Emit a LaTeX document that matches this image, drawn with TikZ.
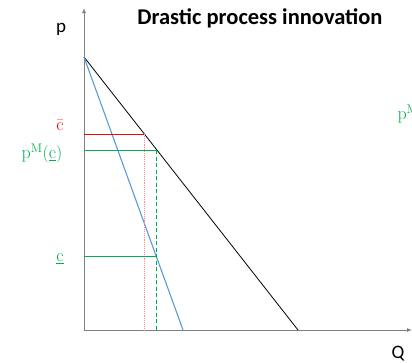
\documentclass[tikz,border=0pt]{standalone}
\usepackage{fontspec}
\setsansfont{Carlito}
\usetikzlibrary{arrows.meta}
\definecolor{offgreen}{RGB}{0,176,80}
\definecolor{offblue}{RGB}{91,155,213}
\definecolor{axisgray}{RGB}{128,128,128}

\begin{document}
\begin{tikzpicture}[
        x=1pt, y=-1pt,
        axis/.style={draw=axisgray, line width=0.9pt},
        demand/.style={draw=black, line width=0.8pt},
        mrev/.style={draw=offblue, line width=1.1pt},
        cost/.style={line width=1pt},
        guide/.style={line width=0.9pt},
        axlabel/.style={font=\fontsize{19}{21}\sffamily},
        mathlabel/.style={font=\fontsize{18}{20}\selectfont}
    ]
    \useasboundingbox (0,0) rectangle (412,362);

    % --- Axes ---
    \coordinate (origin) at (84,330);
    \coordinate (ytop) at (84,8);
    \coordinate (xend) at (412,330);
    \draw[axis, -{Latex[length=5pt,width=4pt]}] (origin) -- (ytop);
    \draw[axis, -{Latex[length=5pt,width=4pt]}] (origin) -- (xend);
    \node[axlabel] (plab) at (61,29) {p};
    \node[axlabel] (qlab) at (398,354) {Q};

    % --- Title ---
    \node[font=\fontsize{22.5}{24}\sffamily\bfseries] (title) at (260,18) {Drastic process innovation};

    % --- Demand and marginal revenue ---
    \coordinate (pmax) at (84,57);
    \coordinate (dend) at (298,330);
    \coordinate (mrend) at (183,330);
    \draw[demand] (pmax) -- (dend);
    \draw[mrev] (pmax) -- (mrend);

    % --- Cost levels ---
    \coordinate (cbar) at (84,134);
    \coordinate (cbarD) at (144.4,134);
    \coordinate (cbarQ) at (144.4,330);
    \coordinate (pm) at (84,150);
    \coordinate (pmD) at (156.9,150);
    \coordinate (pmQ) at (156.9,330);
    \coordinate (clow) at (84,256);
    \coordinate (clowMR) at (156.9,256);

    \draw[cost, red] (cbar) -- (cbarD);
    \draw[guide, red!45, densely dotted] (cbarD) -- (cbarQ);
    \draw[cost, offgreen] (pm) -- (pmD);
    \draw[guide, offgreen, dash pattern=on 4pt off 2.5pt] (pmD) -- (pmQ);
    \draw[cost, offgreen] (clow) -- (clowMR);

    % Labels
    \node[mathlabel, text=red] (cbarlab) at (60,125) {$\bar{\mathrm{c}}$};
    \node[mathlabel, text=offgreen] (pmlab) at (42,153) {$\mathrm{p}^{\mathrm{M}}(\underline{\mathrm{c}})$};
    \node[mathlabel, text=offgreen] (clowlab) at (60,259) {$\underline{\mathrm{c}}$};
    \node[mathlabel, text=offgreen, anchor=west] (pmright) at (394,114) {$\mathrm{p}^{\mathrm{M}}$};

\end{tikzpicture}
\end{document}
